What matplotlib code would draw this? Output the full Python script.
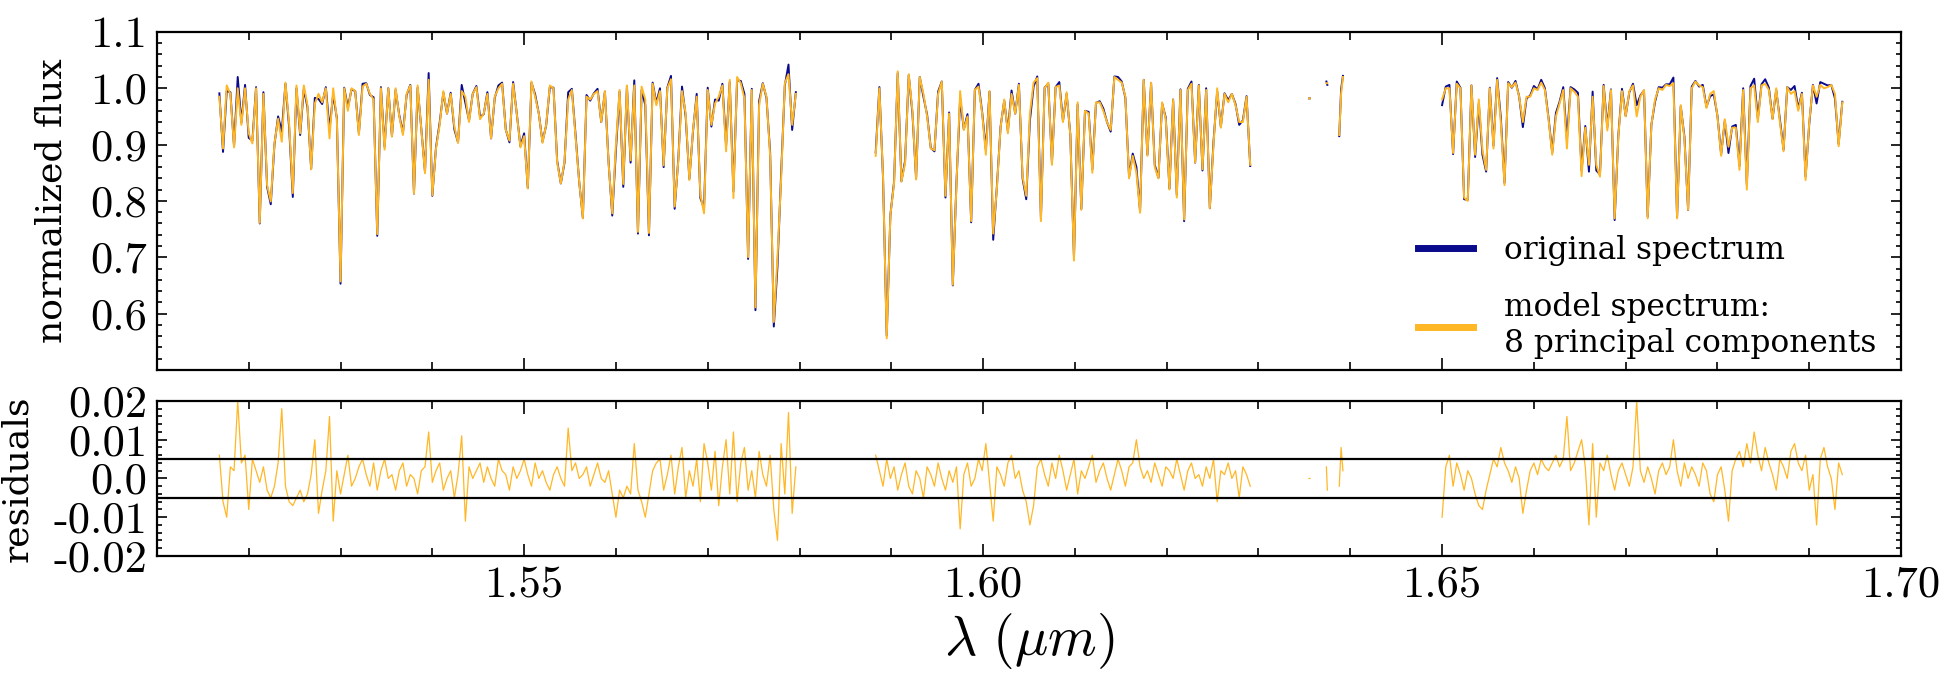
import numpy as np
import matplotlib
matplotlib.use('Agg')
import matplotlib.pyplot as plt
from matplotlib.ticker import MultipleLocator
from matplotlib.lines import Line2D

plt.rcParams['font.family'] = ['DejaVu Serif']
plt.rcParams['mathtext.fontset'] = 'cm'
plt.rcParams['axes.unicode_minus'] = False

# ---------------- data ----------------
# segment 1: 1.5168 .. 1.5796 um, step 0.0004
wl1 = np.linspace(1.5168, 1.5796, 158)
model1 = [0.985, 0.893, 1.005, 0.990, 0.895, 1.000, 0.935, 1.000, 0.920, 0.902,
          1.000, 0.761, 0.990, 0.828, 0.799, 0.902, 0.946, 0.905, 1.010, 0.937,
          0.814, 1.005, 0.920, 1.005, 0.970, 0.856, 0.973, 0.990, 0.975, 1.000,
          0.911, 1.000, 0.945, 0.657, 1.000, 0.960, 1.000, 0.995, 0.917, 1.003,
          1.008, 0.990, 0.980, 0.741, 1.000, 0.891, 1.000, 0.914, 1.000, 0.950,
          0.917, 0.990, 1.005, 0.813, 1.005, 0.926, 0.849, 1.015, 0.810, 0.893,
          0.935, 0.995, 0.955, 0.990, 0.932, 0.903, 0.995, 0.985, 0.940, 0.990,
          1.002, 0.945, 0.955, 0.990, 0.911, 0.985, 1.000, 1.008, 0.926, 0.907,
          1.008, 0.955, 0.895, 0.915, 0.822, 1.012, 0.985, 0.955, 0.903, 0.935,
          1.005, 1.000, 0.868, 0.831, 0.870, 0.980, 0.997, 0.914, 0.834, 0.769,
          0.985, 0.980, 0.990, 0.995, 0.940, 0.995, 0.867, 0.778, 0.900, 0.997,
          0.830, 1.005, 0.872, 1.005, 0.745, 1.003, 0.980, 0.743, 1.008, 0.970,
          0.995, 0.863, 1.000, 1.016, 0.790, 0.872, 0.995, 0.955, 0.837, 0.926,
          0.985, 0.811, 0.778, 0.997, 0.935, 0.973, 0.985, 1.005, 0.888, 1.015,
          0.805, 1.020, 1.009, 0.982, 0.700, 0.997, 0.611, 0.970, 1.008, 0.985,
          0.880, 0.585, 0.700, 0.840, 1.009, 1.025, 0.935, 0.990]
resid1_milli = [6, -6, -10, 3, 2, 20, 4, 6, -8, 5,
                2, -1, 3, -3, -5, -2, 4, 18, -2, -6,
                -7, -5, -3, -6, -4, 1, 10, -9, -3, 2,
                16, -11, 2, -4, 1, 6, -2, 0, 3, 5,
                1, -2, 4, -3, 2, 5, 0, 1, -3, 2,
                4, -2, 1, 0, -4, 2, 3, 12, -1, 2,
                4, -3, 0, 2, -5, 1, 11, -11, 3, 0,
                2, 4, -1, 3, 0, -2, 5, 2, 1, -3,
                3, 0, 2, 5, 1, -2, 4, 0, 2, -1,
                -3, 1, 3, 0, -2, 13, 2, 4, 0, 1,
                3, -2, 1, 4, 0, -1, 2, -4, -10, -3,
                -5, -2, -4, 9, -3, -6, -10, -4, 2, 4,
                5, -3, 1, 6, -4, 3, 8, -5, 2, -2,
                5, -6, 9, 4, -3, 7, -7, 3, 10, -4,
                12, -6, 4, 8, -3, 2, -5, 7, 1, -2,
                6, -8, -16, 9, -4, 17, -9, 3]

# segment 2: 1.5883 .. 1.6291 um, step 0.0004
wl2 = np.linspace(1.5883, 1.6291, 103)
model2 = [0.880, 1.000, 0.843, 0.556, 0.775, 0.831, 1.030, 0.834, 0.867, 1.025,
          0.960, 0.838, 1.020, 0.990, 0.950, 0.893, 0.890, 0.990, 1.012, 0.809,
          0.955, 0.651, 0.830, 0.995, 0.926, 0.950, 0.764, 0.997, 1.003, 0.955,
          0.882, 0.995, 0.742, 0.822, 0.930, 0.980, 0.920, 0.990, 0.955, 1.006,
          0.843, 0.809, 0.955, 1.010, 1.018, 0.764, 1.000, 1.010, 0.864, 1.002,
          1.005, 0.940, 0.993, 0.917, 0.694, 0.975, 0.784, 0.960, 0.955, 0.850,
          0.975, 0.975, 0.960, 0.940, 0.926, 1.020, 1.015, 1.010, 0.985, 0.840,
          0.880, 0.850, 0.779, 1.015, 0.880, 1.010, 0.860, 0.840, 0.975, 0.945,
          0.820, 0.980, 0.806, 0.997, 0.767, 0.997, 1.008, 0.868, 1.005, 0.856,
          0.997, 0.787, 0.900, 1.000, 0.930, 0.990, 0.975, 0.990, 0.970, 0.940,
          0.940, 0.985, 0.864]
resid2_milli = [6, 2, -2, 5, 0, 3, -3, 1, 4, -2,
                -4, 2, 0, -5, 3, 1, -2, 4, 0, -3,
                2, -1, 3, -13, 1, 4, -2, 0, 5, 2,
                9, -1, -11, 3, 1, -2, 4, 6, 0, 2,
                -3, -6, -12, -7, 3, 5, 1, -2, 4, 0,
                6, 2, -3, 1, 5, -4, 2, 0, 3, 6,
                -1, 2, 4, 0, -3, 1, 5, 2, -2, 3,
                4, 10, 3, 0, 2, -1, 4, 1, -2, 3,
                2, 0, 5, 1, -3, 2, 4, 0, 1, -2,
                3, 0, 5, -6, 2, 1, 4, 0, 2, -5,
                3, 1, -2]

# segment 3: isolated fragments near 1.636-1.639 um
wl3 = [1.6355, 1.6356, np.nan, 1.6374, 1.6375, np.nan, 1.6388, 1.6390, 1.6392]
model3 = [0.982, 0.982, np.nan, 1.009, 1.009, np.nan, 0.917, 0.990, 1.020]
resid3_milli = [0, 0, np.nan, 3, -3, np.nan, -2, 8, 2]

# segment 4: 1.6500 .. 1.6936 um, step 0.0004
wl4 = np.linspace(1.6500, 1.6936, 110)
model4 = [0.980, 1.000, 1.000, 0.885, 1.008, 1.000, 0.806, 0.800, 1.005, 0.882,
          0.980, 0.890, 0.855, 1.000, 0.893, 1.015, 0.940, 0.828, 1.009, 1.002,
          1.010, 0.985, 0.940, 0.985, 0.985, 1.000, 0.997, 1.010, 0.997, 0.945,
          0.882, 0.950, 0.973, 0.997, 0.893, 1.000, 0.994, 0.985, 0.844, 0.930,
          0.864, 0.985, 0.864, 0.843, 1.004, 0.925, 0.997, 0.769, 0.914, 0.995,
          0.950, 0.995, 1.005, 0.950, 0.985, 0.997, 0.769, 0.935, 0.980, 1.000,
          0.997, 1.006, 1.004, 1.009, 0.769, 0.970, 0.910, 0.784, 1.000, 1.012,
          1.005, 1.002, 0.965, 0.990, 0.995, 0.950, 0.880, 0.945, 0.896, 0.930,
          0.930, 0.855, 0.997, 0.820, 1.000, 1.005, 0.940, 1.005, 1.008, 0.997,
          0.945, 1.000, 0.940, 0.888, 1.002, 0.990, 0.995, 0.960, 0.990, 0.837,
          0.940, 1.005, 0.985, 1.006, 1.000, 1.002, 1.006, 0.990, 0.897, 0.975]
resid4_milli = [-10, 3, 6, -2, 4, 1, -3, 2, 0, -4,
                -7, -8, -3, 1, 5, 3, 8, 4, 2, -1,
                3, 0, -9, -3, 2, 4, 1, 5, 3, 2,
                4, 6, 3, 5, 16, 2, 4, 7, 10, 3,
                -12, 9, -10, 4, 2, 6, 1, -3, 2, 4,
                1, -2, 3, 20, 2, -1, 3, 0, -4, 2,
                4, 1, 3, 10, 2, -2, 4, 0, 3, 1,
                -2, 4, 2, -4, -6, 1, 3, -3, -11, 2,
                5, 7, 3, 9, 4, 12, 6, 2, 8, 4,
                1, -3, 5, 3, 0, 7, 9, 4, 2, 6,
                -3, 1, -12, 5, 8, 3, 0, -8, 4, 1]

band_limits = [-0.005, 0.005]
legend_labels = ['original spectrum', 'model spectrum:\n8 principal components']
flux_ticks = [0.6, 0.7, 0.8, 0.9, 1.0, 1.1]
resid_ticks = [-0.02, -0.01, 0.0, 0.01, 0.02]
resid_tick_labels = ['-0.02', '-0.01', '0.0', '0.01', '0.02']
wl_ticks = [1.55, 1.60, 1.65, 1.70]
wl_tick_labels = ['1.55', '1.60', '1.65', '1.70']

# ---------------- assemble (segments separated by gaps) ----------------
gap = [np.nan]
wl = np.concatenate([wl1, gap, wl2, gap, wl3, gap, wl4])
model = np.concatenate([model1, gap, model2, gap, model3, gap, model4])
resid = np.concatenate([resid1_milli, gap, resid2_milli, gap, resid3_milli, gap,
                        resid4_milli]) * 1e-3        # milli-units -> flux units
original = model + resid                             # residual = original - model

c_orig = '#0a0a8c'
c_model = '#ffb726'

fig = plt.figure(figsize=(19.52, 6.75), dpi=100)
ax1 = fig.add_axes([0.0804, 0.452, 0.8935, 0.5007])
ax2 = fig.add_axes([0.0804, 0.1763, 0.8935, 0.2297])

ax1.plot(wl, original, color=c_orig, lw=1.4)
ax1.plot(wl, model, color=c_model, lw=1.4)
ax2.plot(wl, resid, color=c_model, lw=0.9)
for b in band_limits:
    ax2.axhline(b, color='black', lw=1.6)

for ax in (ax1, ax2):
    ax.set_xlim(1.51, 1.70)
    ax.xaxis.set_major_locator(MultipleLocator(0.05))
    ax.xaxis.set_minor_locator(MultipleLocator(0.01))
    ax.tick_params(which='both', direction='in', top=True, right=True,
                   labelsize=32, width=1.2, pad=7, labelfontfamily='cmr10')
    ax.tick_params(axis='x', which='major', length=9)
    ax.tick_params(axis='x', which='minor', length=6)
    ax.tick_params(axis='y', which='major', length=7)
    ax.tick_params(axis='y', which='minor', length=3.5)
    for s in ax.spines.values():
        s.set_linewidth(1.6)

ax1.set_ylim(0.5, 1.1)
ax1.yaxis.set_minor_locator(MultipleLocator(0.02))
ax1.set_yticks(flux_ticks)
ax1.set_yticklabels([f'{v:.1f}' for v in flux_ticks])
ax1.tick_params(axis='x', labelbottom=False)
ax1.set_ylabel('normalized flux', fontsize=26, labelpad=16)

ax2.set_ylim(-0.02, 0.02)
ax2.set_yticks(resid_ticks)
ax2.set_yticklabels(resid_tick_labels)
ax2.yaxis.set_minor_locator(MultipleLocator(0.002))
ax2.set_xticks(wl_ticks)
ax2.set_xticklabels(wl_tick_labels)
ax2.set_ylabel('residuals', fontsize=26, labelpad=14)
ax2.set_xlabel(r'$\lambda\ (\mu m)$', fontsize=40, labelpad=4)

handles = [Line2D([], [], color=c_orig, lw=5), Line2D([], [], color=c_model, lw=5)]
ax1.legend(handles, legend_labels, loc='upper left', bbox_to_anchor=(0.723, 0.40),
           frameon=False, fontsize=22.5, handlelength=1.75, handletextpad=1.0,
           labelspacing=0.85, borderpad=0, borderaxespad=0)

fig.savefig('out.png', dpi=100)
